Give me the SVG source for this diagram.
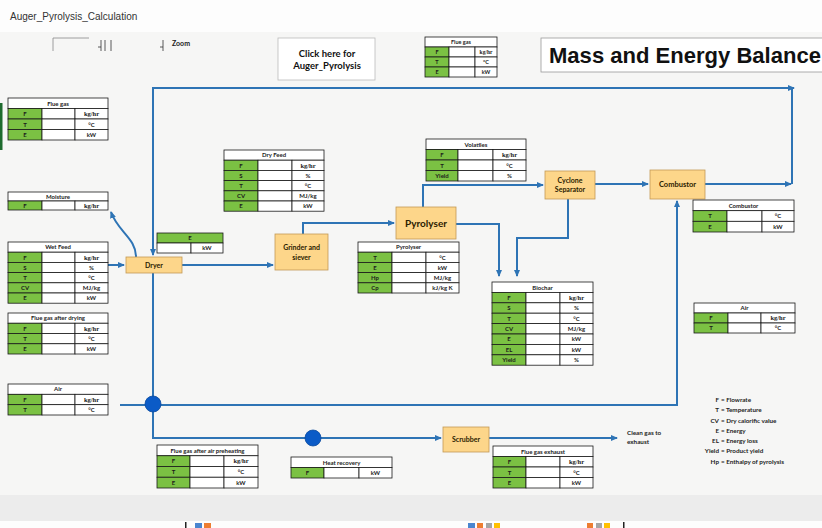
<svg xmlns="http://www.w3.org/2000/svg" width="822" height="528" viewBox="0 0 822 528">
<defs>
<marker id="ar" markerUnits="userSpaceOnUse" markerWidth="7" markerHeight="6" refX="6" refY="3" orient="auto-start-reverse">
<path d="M0,0 L7,3 L0,6 Z" fill="#2e74b5"/>
</marker>
<style>
.c{fill:#fff;stroke:#1a1a1a;stroke-width:0.8}
.g{fill:#7bc143;stroke:#1a1a1a;stroke-width:0.8}
.t{font-family:Lato,"Liberation Sans",sans-serif;font-size:6px;font-weight:700;fill:#1b1b1b;text-anchor:middle}
.s{font-family:"Liberation Serif",serif;font-size:6.5px;font-weight:700;fill:#1b1b1b;text-anchor:middle}
.p{fill:#fdd68a;stroke:#c39a55;stroke-width:0.8}
.pt{font-family:Lato,"Liberation Sans",sans-serif;font-size:7px;font-weight:700;fill:#2b2100;text-anchor:middle}
.ln{fill:none;stroke:#2e74b5;stroke-width:2}
.lg{font-family:Lato,"Liberation Sans",sans-serif;font-size:6.3px;font-weight:700;fill:#222}
</style>
</defs>
<rect x="0" y="0" width="822" height="528" fill="#f6f6f5"/>
<rect x="0" y="0" width="822" height="32" fill="#fdfdfd"/>
<rect x="0" y="495" width="822" height="26" fill="#ececec"/>
<rect x="0" y="521" width="822" height="7" fill="#fdfdfd"/>
<rect x="185" y="522" width="1.5" height="6" fill="#222"/>
<rect x="195" y="523" width="7" height="5" fill="#4a86d0"/>
<rect x="204" y="523" width="7" height="5" fill="#ed7d31"/>
<rect x="468" y="523" width="7" height="5" fill="#4a86d0"/>
<rect x="477" y="523" width="6" height="5" fill="#ed7d31"/>
<rect x="486" y="523" width="6" height="5" fill="#a5a5a5"/>
<rect x="494" y="523" width="6" height="5" fill="#ffc000"/>
<rect x="587" y="523" width="6" height="5" fill="#ed7d31"/>
<rect x="596" y="523" width="6" height="5" fill="#a5a5a5"/>
<rect x="604" y="523" width="6" height="5" fill="#ffc000"/>
<rect x="623" y="522" width="1.5" height="6" fill="#222"/>

<text x="10" y="20" font-family="'Liberation Sans',sans-serif" font-size="10" fill="#333">Auger_Pyrolysis_Calculation</text>
<g id="zoom">
<path d="M53,51 V38 H89" fill="none" stroke="#888" stroke-width="0.8"/>
<path d="M98,47 H101 M101,40 V51 M105,40 V51 M111,40 V51 M160,47 H163 M163,40 V51" fill="none" stroke="#333" stroke-width="0.8"/>
<text x="172" y="46" font-family="Lato,'Liberation Sans',sans-serif" font-size="7" font-weight="700" fill="#222">Zoom</text>
</g>

<g id="click-button">
<rect x="278" y="38" width="97" height="42" fill="#fff" stroke="#bbb" stroke-width="0.8"/>
<text x="327" y="57" font-family="Lato,'Liberation Sans',sans-serif" font-size="9.5" font-weight="700" fill="#111" text-anchor="middle">Click here for</text>
<text x="327" y="69" font-family="Lato,'Liberation Sans',sans-serif" font-size="9.5" font-weight="700" fill="#111" text-anchor="middle">Auger_Pyrolysis</text>
</g>

<g id="title">
<rect x="541" y="38" width="290" height="34" fill="#fff" stroke="#999" stroke-width="0.8"/>
<text x="549" y="63" font-family="'Liberation Sans',sans-serif" font-size="21.5" font-weight="700" fill="#111" textLength="272" lengthAdjust="spacingAndGlyphs">Mass and Energy Balance</text>
</g>

<g id="connectors">
<path class="ln" d="M108,265 H124" marker-end="url(#ar)"/>
<path class="ln" d="M136,257 C136,238 118,232 111,212" marker-end="url(#ar)"/>
<path class="ln" d="M182,265 H273" marker-end="url(#ar)"/>
<path class="ln" d="M303,234 V223 H394" marker-end="url(#ar)"/>
<path class="ln" d="M423,207 V185 H543" marker-end="url(#ar)"/>
<path class="ln" d="M456,224 H499 V276" marker-end="url(#ar)"/>
<path class="ln" d="M568,199 V238 H517 V276" marker-end="url(#ar)"/>
<path class="ln" d="M595,184 H648" marker-end="url(#ar)"/>
<path class="ln" d="M705,184 H791" marker-end="url(#ar)"/>
<path class="ln" d="M792,184 V89"/>
<path class="ln" d="M153,255 V88 H794" marker-start="url(#ar)" marker-end="url(#ar)"/>
<path class="ln" d="M120,405 H677 V201" marker-end="url(#ar)"/>
<path class="ln" d="M153,273 V438 H441" marker-end="url(#ar)"/>
<path class="ln" d="M489,438 H617" marker-end="url(#ar)"/>
<circle cx="153" cy="404" r="8" fill="#0b5bc7" stroke="#0a4a9e" stroke-width="0.8"/>
<circle cx="313" cy="438" r="8" fill="#0b5bc7" stroke="#0a4a9e" stroke-width="0.8"/>
</g>

<g id="dryer"><rect class="p" x="126" y="257" width="56" height="16"/><text class="pt" x="154" y="267.5">Dryer</text></g>
<g id="grinder"><rect class="p" x="275" y="234" width="53" height="36"/><text class="pt" x="301.5" y="250">Grinder and</text><text class="pt" x="301.5" y="260">siever</text></g>
<g id="pyrolyser"><rect class="p" x="396" y="207" width="60" height="32"/><text class="pt" x="426" y="226.5" style="font-size:10px">Pyrolyser</text></g>
<g id="cyclone"><rect class="p" x="545" y="171" width="50" height="28"/><text class="pt" x="570" y="183">Cyclone</text><text class="pt" x="570" y="192">Separator</text></g>
<g id="combustor"><rect class="p" x="650" y="170" width="55" height="29"/><text class="pt" x="677.5" y="187" style="font-size:7.5px">Combustor</text></g>
<g id="scrubber"><rect class="p" x="443" y="427" width="46" height="25"/><text class="pt" x="466" y="442">Scrubber</text></g>

<rect x="0" y="103" width="2.5" height="47" fill="#1e6b2e"/>
<g id="tbl-fluegas-left">
<rect class="c" x="8" y="98" width="100" height="10.5"/><text class="t" x="58" y="105.7">Flue gas</text>
<rect class="g" x="8" y="108.5" width="34" height="10.5"/><rect class="c" x="42" y="108.5" width="33" height="10.5"/><rect class="c" x="75" y="108.5" width="33" height="10.5"/><text class="t" x="25" y="116.2">F</text><text class="s" x="91.5" y="116.2">kg/hr</text>
<rect class="g" x="8" y="119" width="34" height="10.5"/><rect class="c" x="42" y="119" width="33" height="10.5"/><rect class="c" x="75" y="119" width="33" height="10.5"/><text class="t" x="25" y="126.7">T</text><text class="t" x="91.5" y="126.7">°C</text>
<rect class="g" x="8" y="129.5" width="34" height="10.5"/><rect class="c" x="42" y="129.5" width="33" height="10.5"/><rect class="c" x="75" y="129.5" width="33" height="10.5"/><text class="t" x="25" y="137.2">E</text><text class="t" x="91.5" y="137.2">kW</text>
</g>
<g id="tbl-moisture">
<rect class="c" x="8" y="192" width="100" height="9"/><text class="t" x="58" y="198.5">Moisture</text>
<rect class="g" x="8" y="201" width="34" height="9"/><rect class="c" x="42" y="201" width="33" height="9"/><rect class="c" x="75" y="201" width="33" height="9"/><text class="t" x="25" y="207.5">F</text><text class="s" x="91.5" y="207.5">kg/hr</text>
</g>
<g id="tbl-wetfeed">
<rect class="c" x="8" y="242" width="100" height="10.2"/><text class="t" x="58" y="249.4">Wet Feed</text>
<rect class="g" x="8" y="252.2" width="34" height="10.2"/><rect class="c" x="42" y="252.2" width="33" height="10.2"/><rect class="c" x="75" y="252.2" width="33" height="10.2"/><text class="t" x="25" y="259.6">F</text><text class="s" x="91.5" y="259.6">kg/hr</text>
<rect class="g" x="8" y="262.4" width="34" height="10.2"/><rect class="c" x="42" y="262.4" width="33" height="10.2"/><rect class="c" x="75" y="262.4" width="33" height="10.2"/><text class="t" x="25" y="269.8">S</text><text class="t" x="91.5" y="269.8">%</text>
<rect class="g" x="8" y="272.6" width="34" height="10.2"/><rect class="c" x="42" y="272.6" width="33" height="10.2"/><rect class="c" x="75" y="272.6" width="33" height="10.2"/><text class="t" x="25" y="280">T</text><text class="t" x="91.5" y="280">°C</text>
<rect class="g" x="8" y="282.8" width="34" height="10.2"/><rect class="c" x="42" y="282.8" width="33" height="10.2"/><rect class="c" x="75" y="282.8" width="33" height="10.2"/><text class="t" x="25" y="290.2">CV</text><text class="t" x="91.5" y="290.2">MJ/kg</text>
<rect class="g" x="8" y="293" width="34" height="10.2"/><rect class="c" x="42" y="293" width="33" height="10.2"/><rect class="c" x="75" y="293" width="33" height="10.2"/><text class="t" x="25" y="300.4">E</text><text class="t" x="91.5" y="300.4">kW</text>
</g>
<g id="tbl-fluegas-after-drying">
<rect class="c" x="8" y="313" width="100" height="10.25"/><text class="t" x="58" y="320.4">Flue gas after drying</text>
<rect class="g" x="8" y="323.25" width="34" height="10.25"/><rect class="c" x="42" y="323.25" width="33" height="10.25"/><rect class="c" x="75" y="323.25" width="33" height="10.25"/><text class="t" x="25" y="330.6">F</text><text class="s" x="91.5" y="330.6">kg/hr</text>
<rect class="g" x="8" y="333.5" width="34" height="10.25"/><rect class="c" x="42" y="333.5" width="33" height="10.25"/><rect class="c" x="75" y="333.5" width="33" height="10.25"/><text class="t" x="25" y="340.9">T</text><text class="t" x="91.5" y="340.9">°C</text>
<rect class="g" x="8" y="343.75" width="34" height="10.25"/><rect class="c" x="42" y="343.75" width="33" height="10.25"/><rect class="c" x="75" y="343.75" width="33" height="10.25"/><text class="t" x="25" y="351.1">E</text><text class="t" x="91.5" y="351.1">kW</text>
</g>
<g id="tbl-air-left">
<rect class="c" x="8" y="384" width="100" height="10.33"/><text class="t" x="58" y="391.4">Air</text>
<rect class="g" x="8" y="394.33" width="34" height="10.33"/><rect class="c" x="42" y="394.33" width="33" height="10.33"/><rect class="c" x="75" y="394.33" width="33" height="10.33"/><text class="t" x="25" y="401.7">F</text><text class="s" x="91.5" y="401.7">kg/hr</text>
<rect class="g" x="8" y="404.67" width="34" height="10.33"/><rect class="c" x="42" y="404.67" width="33" height="10.33"/><rect class="c" x="75" y="404.67" width="33" height="10.33"/><text class="t" x="25" y="412">T</text><text class="t" x="91.5" y="412">°C</text>
</g>
<g id="tbl-fluegas-after-air-preheating">
<rect class="c" x="157" y="445" width="101" height="10.75"/><text class="t" x="207.5" y="452.6">Flue gas after air preheating</text>
<rect class="g" x="157" y="455.75" width="33" height="10.75"/><rect class="c" x="190" y="455.75" width="34" height="10.75"/><rect class="c" x="224" y="455.75" width="34" height="10.75"/><text class="t" x="173.5" y="463.4">F</text><text class="s" x="241" y="463.4">kg/hr</text>
<rect class="g" x="157" y="466.5" width="33" height="10.75"/><rect class="c" x="190" y="466.5" width="34" height="10.75"/><rect class="c" x="224" y="466.5" width="34" height="10.75"/><text class="t" x="173.5" y="474.2">T</text><text class="t" x="241" y="474.2">°C</text>
<rect class="g" x="157" y="477.25" width="33" height="10.75"/><rect class="c" x="190" y="477.25" width="34" height="10.75"/><rect class="c" x="224" y="477.25" width="34" height="10.75"/><text class="t" x="173.5" y="484.9">E</text><text class="t" x="241" y="484.9">kW</text>
</g>
<g id="tbl-heat-recovery">
<rect class="c" x="291" y="457" width="101" height="10.5"/><text class="t" x="341.5" y="464.7">Heat recovery</text>
<rect class="g" x="291" y="467.5" width="33" height="10.5"/><rect class="c" x="324" y="467.5" width="35" height="10.5"/><rect class="c" x="359" y="467.5" width="33" height="10.5"/><text class="t" x="307.5" y="475.2">F</text><text class="t" x="375.5" y="475.2">kW</text>
</g>
<g id="tbl-fluegas-exhaust">
<rect class="c" x="493" y="446" width="100" height="10.5"/><text class="t" x="543" y="453.7">Flue gas exhaust</text>
<rect class="g" x="493" y="456.5" width="33" height="10.5"/><rect class="c" x="526" y="456.5" width="34" height="10.5"/><rect class="c" x="560" y="456.5" width="33" height="10.5"/><text class="t" x="509.5" y="464.2">F</text><text class="s" x="576.5" y="464.2">kg/hr</text>
<rect class="g" x="493" y="467" width="33" height="10.5"/><rect class="c" x="526" y="467" width="34" height="10.5"/><rect class="c" x="560" y="467" width="33" height="10.5"/><text class="t" x="509.5" y="474.7">T</text><text class="t" x="576.5" y="474.7">°C</text>
<rect class="g" x="493" y="477.5" width="33" height="10.5"/><rect class="c" x="526" y="477.5" width="34" height="10.5"/><rect class="c" x="560" y="477.5" width="33" height="10.5"/><text class="t" x="509.5" y="485.2">E</text><text class="t" x="576.5" y="485.2">kW</text>
</g>
<g id="tbl-dryfeed">
<rect class="c" x="224" y="150" width="100" height="10.2"/><text class="t" x="274" y="157.4">Dry Feed</text>
<rect class="g" x="224" y="160.2" width="34" height="10.2"/><rect class="c" x="258" y="160.2" width="34" height="10.2"/><rect class="c" x="292" y="160.2" width="32" height="10.2"/><text class="t" x="241" y="167.6">F</text><text class="s" x="308" y="167.6">kg/hr</text>
<rect class="g" x="224" y="170.4" width="34" height="10.2"/><rect class="c" x="258" y="170.4" width="34" height="10.2"/><rect class="c" x="292" y="170.4" width="32" height="10.2"/><text class="t" x="241" y="177.8">S</text><text class="t" x="308" y="177.8">%</text>
<rect class="g" x="224" y="180.6" width="34" height="10.2"/><rect class="c" x="258" y="180.6" width="34" height="10.2"/><rect class="c" x="292" y="180.6" width="32" height="10.2"/><text class="t" x="241" y="188">T</text><text class="t" x="308" y="188">°C</text>
<rect class="g" x="224" y="190.8" width="34" height="10.2"/><rect class="c" x="258" y="190.8" width="34" height="10.2"/><rect class="c" x="292" y="190.8" width="32" height="10.2"/><text class="t" x="241" y="198.2">CV</text><text class="t" x="308" y="198.2">MJ/kg</text>
<rect class="g" x="224" y="201" width="34" height="10.2"/><rect class="c" x="258" y="201" width="34" height="10.2"/><rect class="c" x="292" y="201" width="32" height="10.2"/><text class="t" x="241" y="208.4">E</text><text class="t" x="308" y="208.4">kW</text>
</g>
<g id="tbl-dryer-energy">
<rect class="g" x="157" y="233" width="66" height="10"/><text class="t" x="190" y="240.3">E</text>
<rect class="c" x="157" y="243" width="34" height="10"/><rect class="c" x="191" y="243" width="32" height="10"/><text class="t" x="207" y="250.3">kW</text>
</g>
<g id="tbl-pyrolyser">
<rect class="c" x="358" y="242" width="101" height="10.2"/><text class="t" x="408.5" y="249.4">Pyrolyser</text>
<rect class="g" x="358" y="252.2" width="34" height="10.2"/><rect class="c" x="392" y="252.2" width="34" height="10.2"/><rect class="c" x="426" y="252.2" width="33" height="10.2"/><text class="t" x="375" y="259.6">T</text><text class="t" x="442.5" y="259.6">°C</text>
<rect class="g" x="358" y="262.4" width="34" height="10.2"/><rect class="c" x="392" y="262.4" width="34" height="10.2"/><rect class="c" x="426" y="262.4" width="33" height="10.2"/><text class="t" x="375" y="269.8">E</text><text class="t" x="442.5" y="269.8">kW</text>
<rect class="g" x="358" y="272.6" width="34" height="10.2"/><rect class="c" x="392" y="272.6" width="34" height="10.2"/><rect class="c" x="426" y="272.6" width="33" height="10.2"/><text class="t" x="375" y="280">Hp</text><text class="t" x="442.5" y="280">MJ/kg</text>
<rect class="g" x="358" y="282.8" width="34" height="10.2"/><rect class="c" x="392" y="282.8" width="34" height="10.2"/><rect class="c" x="426" y="282.8" width="33" height="10.2"/><text class="t" x="375" y="290.2">Cp</text><text class="t" x="442.5" y="290.2">kJ/kg K</text>
</g>
<g id="tbl-volatiles">
<rect class="c" x="426" y="139" width="100" height="10.5"/><text class="t" x="476" y="146.7">Volatiles</text>
<rect class="g" x="426" y="149.5" width="32" height="10.5"/><rect class="c" x="458" y="149.5" width="35" height="10.5"/><rect class="c" x="493" y="149.5" width="33" height="10.5"/><text class="t" x="442" y="157.2">F</text><text class="s" x="509.5" y="157.2">kg/hr</text>
<rect class="g" x="426" y="160" width="32" height="10.5"/><rect class="c" x="458" y="160" width="35" height="10.5"/><rect class="c" x="493" y="160" width="33" height="10.5"/><text class="t" x="442" y="167.7">T</text><text class="t" x="509.5" y="167.7">°C</text>
<rect class="g" x="426" y="170.5" width="32" height="10.5"/><rect class="c" x="458" y="170.5" width="35" height="10.5"/><rect class="c" x="493" y="170.5" width="33" height="10.5"/><text class="t" x="442" y="178.2">Yield</text><text class="t" x="509.5" y="178.2">%</text>
</g>
<g id="tbl-biochar">
<rect class="c" x="492" y="282" width="101" height="10.4"/><text class="t" x="542.5" y="289.5">Biochar</text>
<rect class="g" x="492" y="292.4" width="34" height="10.4"/><rect class="c" x="526" y="292.4" width="34" height="10.4"/><rect class="c" x="560" y="292.4" width="33" height="10.4"/><text class="t" x="509" y="299.8">F</text><text class="s" x="576.5" y="299.8">kg/hr</text>
<rect class="g" x="492" y="302.8" width="34" height="10.4"/><rect class="c" x="526" y="302.8" width="34" height="10.4"/><rect class="c" x="560" y="302.8" width="33" height="10.4"/><text class="t" x="509" y="310.2">S</text><text class="t" x="576.5" y="310.2">%</text>
<rect class="g" x="492" y="313.2" width="34" height="10.4"/><rect class="c" x="526" y="313.2" width="34" height="10.4"/><rect class="c" x="560" y="313.2" width="33" height="10.4"/><text class="t" x="509" y="320.6">T</text><text class="t" x="576.5" y="320.6">°C</text>
<rect class="g" x="492" y="323.6" width="34" height="10.4"/><rect class="c" x="526" y="323.6" width="34" height="10.4"/><rect class="c" x="560" y="323.6" width="33" height="10.4"/><text class="t" x="509" y="331">CV</text><text class="t" x="576.5" y="331">MJ/kg</text>
<rect class="g" x="492" y="334" width="34" height="10.4"/><rect class="c" x="526" y="334" width="34" height="10.4"/><rect class="c" x="560" y="334" width="33" height="10.4"/><text class="t" x="509" y="341.4">E</text><text class="t" x="576.5" y="341.4">kW</text>
<rect class="g" x="492" y="344.4" width="34" height="10.4"/><rect class="c" x="526" y="344.4" width="34" height="10.4"/><rect class="c" x="560" y="344.4" width="33" height="10.4"/><text class="t" x="509" y="351.8">EL</text><text class="t" x="576.5" y="351.8">kW</text>
<rect class="g" x="492" y="354.8" width="34" height="10.4"/><rect class="c" x="526" y="354.8" width="34" height="10.4"/><rect class="c" x="560" y="354.8" width="33" height="10.4"/><text class="t" x="509" y="362.2">Yield</text><text class="t" x="576.5" y="362.2">%</text>
</g>
<g id="tbl-combustor">
<rect class="c" x="693" y="200" width="101" height="10.67"/><text class="t" x="743.5" y="207.6">Combustor</text>
<rect class="g" x="693" y="210.67" width="34" height="10.67"/><rect class="c" x="727" y="210.67" width="35" height="10.67"/><rect class="c" x="762" y="210.67" width="32" height="10.67"/><text class="t" x="710" y="218.3">T</text><text class="t" x="778" y="218.3">°C</text>
<rect class="g" x="693" y="221.33" width="34" height="10.67"/><rect class="c" x="727" y="221.33" width="35" height="10.67"/><rect class="c" x="762" y="221.33" width="32" height="10.67"/><text class="t" x="710" y="229">E</text><text class="t" x="778" y="229">kW</text>
</g>
<g id="tbl-air-right">
<rect class="c" x="694" y="303" width="101" height="10"/><text class="t" x="744.5" y="310.2">Air</text>
<rect class="g" x="694" y="313" width="34" height="10"/><rect class="c" x="728" y="313" width="33" height="10"/><rect class="c" x="761" y="313" width="34" height="10"/><text class="t" x="711" y="320.2">F</text><text class="s" x="778" y="320.2">kg/hr</text>
<rect class="g" x="694" y="323" width="34" height="10"/><rect class="c" x="728" y="323" width="33" height="10"/><rect class="c" x="761" y="323" width="34" height="10"/><text class="t" x="711" y="330.2">T</text><text class="t" x="778" y="330.2">°C</text>
</g>
<g id="tbl-fluegas-top">
<rect class="c" x="425" y="37" width="72" height="10"/><text class="t" x="461" y="44" style="font-size:5.5px">Flue gas</text>
<rect class="g" x="425" y="47" width="24" height="10"/><rect class="c" x="449" y="47" width="26" height="10"/><rect class="c" x="475" y="47" width="22" height="10"/><text class="t" x="437" y="54.2" style="font-size:5.5px">F</text><text class="s" x="486" y="54.2" style="font-size:5.5px">kg/hr</text>
<rect class="g" x="425" y="57" width="24" height="10"/><rect class="c" x="449" y="57" width="26" height="10"/><rect class="c" x="475" y="57" width="22" height="10"/><text class="t" x="437" y="64.2" style="font-size:5.5px">T</text><text class="t" x="486" y="64.2" style="font-size:5.5px">°C</text>
<rect class="g" x="425" y="67" width="24" height="10"/><rect class="c" x="449" y="67" width="26" height="10"/><rect class="c" x="475" y="67" width="22" height="10"/><text class="t" x="437" y="74.2" style="font-size:5.5px">E</text><text class="t" x="486" y="74.2" style="font-size:5.5px">kW</text>
</g>

<g id="clean-gas-label">
<text class="lg" x="627" y="435">Clean gas to</text>
<text class="lg" x="627" y="444">exhaust</text>
</g>

<g id="legend">
<text class="lg" x="719" y="402" text-anchor="end">F</text><text class="lg" x="721" y="402">= Flowrate</text>
<text class="lg" x="719" y="412" text-anchor="end">T</text><text class="lg" x="721" y="412">= Temperature</text>
<text class="lg" x="719" y="423" text-anchor="end">CV</text><text class="lg" x="721" y="423">= Dry calorific value</text>
<text class="lg" x="719" y="433" text-anchor="end">E</text><text class="lg" x="721" y="433">= Energy</text>
<text class="lg" x="719" y="443" text-anchor="end">EL</text><text class="lg" x="721" y="443">= Energy loss</text>
<text class="lg" x="719" y="453" text-anchor="end">Yield</text><text class="lg" x="721" y="453">= Product yield</text>
<text class="lg" x="719" y="464" text-anchor="end">Hp</text><text class="lg" x="721" y="464">= Enthalpy of pyrolysis</text>
</g>
</svg>
